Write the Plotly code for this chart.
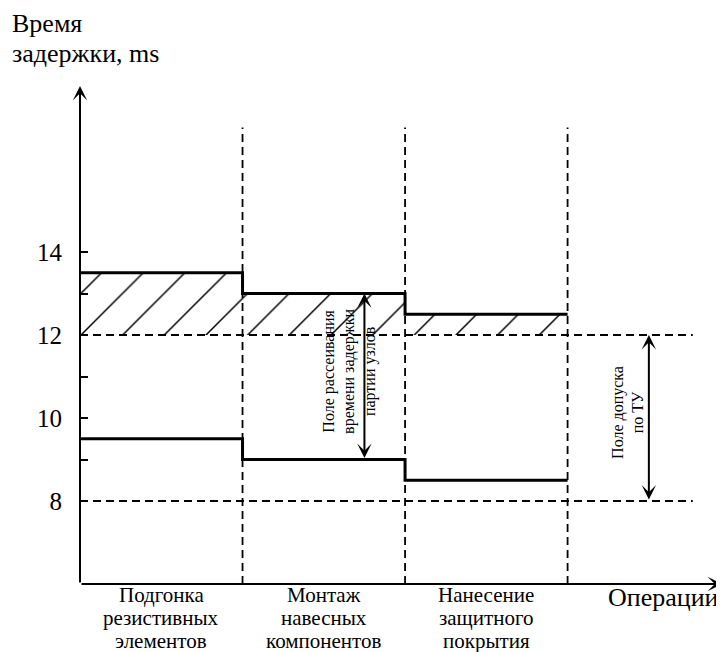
import plotly.graph_objects as go

# ---- data ----
operations = [["Подгонка", "резистивных", "элементов"],
              ["Монтаж", "навесных", "компонентов"],
              ["Нанесение", "защитного", "покрытия"]]
op_centers = [0.5, 1.5, 2.5]
op_bounds = [0, 1, 2, 3]
upper_delay = [13.5, 13.0, 12.5]
lower_delay = [9.5, 9.0, 8.5]
tol_low, tol_high = 8, 12
y_ticks = [8, 9, 10, 11, 12, 13, 14]
y_tick_text = ["8", "", "10", "", "12", "", "14"]
y_title_lines = ["Время", "задержки, ms"]
x_title = "Операции"

FONT = '"Liberation Serif", "Times New Roman", serif'
BLACK = "#000000"

# page offset (body margin) compensation
OFF = 8
W, H = 724 - OFF, 652 - OFF
ML, MR, MT, MB = 80 - OFF, 2, 86 - OFF, 652 - 584
pw, ph = W - ML - MR, H - MT - MB


def px_x(page_x):
    return (page_x - OFF - ML) / pw


def px_y(page_y):
    return 1 - (page_y - OFF - MT) / ph


fig = go.Figure()

step_x = op_bounds
up_y = upper_delay + [upper_delay[-1]]
lo_y = lower_delay + [lower_delay[-1]]

fig.add_trace(go.Scatter(x=[op_bounds[0], op_bounds[-1]], y=[tol_high, tol_high],
                         mode="lines", line=dict(width=0), showlegend=False, hoverinfo="skip"))
fig.add_trace(go.Scatter(x=step_x, y=up_y, mode="lines", line_shape="hv",
                         line=dict(color=BLACK, width=3), fill="tonexty",
                         fillcolor="rgba(0,0,0,0)",
                         fillpattern=dict(shape="/", size=29.46, solidity=0.05,
                                          fgcolor=BLACK, bgcolor="rgba(0,0,0,0)"),
                         showlegend=False, hoverinfo="skip"))
fig.add_trace(go.Scatter(x=step_x, y=lo_y, mode="lines", line_shape="hv",
                         line=dict(color=BLACK, width=3), showlegend=False, hoverinfo="skip"))

for yv in (tol_low, tol_high):
    fig.add_trace(go.Scatter(x=[0, 3.77], y=[yv, yv], mode="lines",
                             line=dict(color=BLACK, width=1.8, dash="8px,5px"),
                             showlegend=False, hoverinfo="skip"))
for xv in op_bounds[1:]:
    fig.add_trace(go.Scatter(x=[xv, xv], y=[6, 17], mode="lines",
                             line=dict(color=BLACK, width=1.8, dash="8px,5px"),
                             showlegend=False, hoverinfo="skip"))

ann = []
arrow = dict(xref="x", yref="y", axref="x", ayref="y", showarrow=True, arrowhead=3,
             arrowsize=1.2, arrowwidth=2, arrowcolor=BLACK, text="")
ann.append(dict(arrow, x=0, y=18, ax=0, ay=6))
ann.append(dict(arrow, x=3.95, y=6, ax=0, ay=6))
ann.append(dict(arrow, x=1.75, y=upper_delay[1], ax=1.75, ay=lower_delay[1],
                startarrowhead=3, arrowside="end+start", startarrowsize=1.2))
ann.append(dict(arrow, x=3.5, y=tol_high, ax=3.5, ay=tol_low,
                startarrowhead=3, arrowside="end+start", startarrowsize=1.2))

ann.append(dict(x=1.66, y=11.13, xref="x", yref="y", showarrow=False, textangle=-90,
                text="Поле рассеивания<br>времени задержки<br>партии узлов",
                font=dict(family=FONT, size=16, color=BLACK)))
ann.append(dict(x=3.37, y=10.14, xref="x", yref="y", showarrow=False, textangle=-90,
                text="Поле допуска<br>по ТУ",
                font=dict(family=FONT, size=16, color=BLACK)))

# y title (two lines)
for txt, base in zip(y_title_lines, [32, 62]):
    ann.append(dict(x=px_x(10), y=px_y(base - 8.5), xref="paper", yref="paper",
                    xanchor="left", yanchor="middle", showarrow=False, text=txt,
                    font=dict(family=FONT, size=26, color=BLACK)))
# x title
ann.append(dict(x=px_x(663), y=px_y(606 - 9), xref="paper", yref="paper",
                xanchor="center", yanchor="middle", showarrow=False,
                text=x_title, font=dict(family=FONT, size=26, color=BLACK)))

# category labels, one line each
line_baselines = [602, 625, 648]
for xc, lines in zip(op_centers, operations):
    for txt, base in zip(lines, line_baselines):
        ann.append(dict(x=xc, y=px_y(base - 7), xref="x", yref="paper", showarrow=False,
                        xanchor="center", yanchor="middle", text=txt,
                        font=dict(family=FONT, size=21, color=BLACK)))

fig.update_layout(
    template="none",
    width=W, height=H,
    margin=dict(l=ML, r=MR, t=MT, b=MB, autoexpand=False),
    paper_bgcolor="white", plot_bgcolor="white",
    font=dict(family=FONT, color=BLACK),
    annotations=ann,
    xaxis=dict(range=[0, 3.95], showgrid=False, zeroline=False, showline=False,
               automargin=False, fixedrange=True, showticklabels=False, ticks=""),
    yaxis=dict(range=[6, 18], showgrid=False, zeroline=False, showline=False,
               automargin=False, fixedrange=True,
               tickvals=y_ticks, ticktext=y_tick_text, ticks="inside", ticklen=8,
               tickwidth=2, tickcolor=BLACK, ticklabelstandoff=17,
               tickfont=dict(family=FONT, size=25, color=BLACK)),
)

fig.write_html("out.html")
